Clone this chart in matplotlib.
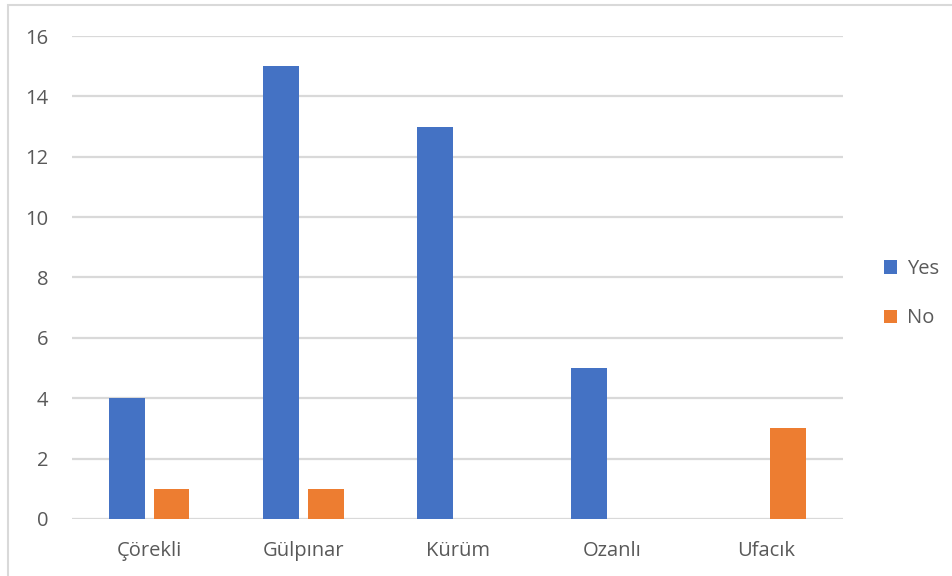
import matplotlib.pyplot as plt
import numpy as np
from matplotlib.patches import Rectangle

villages = ["Çörekli", "Gülpınar", "Kürüm", "Ozanlı", "Ufacık"]
yes_counts = [4, 15, 13, 5, 0]
no_counts = [1, 1, 0, 0, 3]

BLUE = "#4472C4"
ORANGE = "#ED7D31"
GRID = "#D9D9D9"
TEXT = "#595959"

plt.rcParams["font.family"] = ["Open Sans", "DejaVu Sans"]

fig = plt.figure(figsize=(9.53, 5.76), dpi=100)
ax = fig.add_axes([0.0756, 0.099, 0.809, 0.8385])

x = np.arange(len(villages))
w = 0.232
ax.bar(x - 0.145, yes_counts, w, color=BLUE, label="Yes", zorder=3)
ax.bar(x + 0.145, no_counts, w, color=ORANGE, label="No", zorder=3)

ax.set_xlim(-0.5, len(villages) - 0.5)
ax.set_ylim(0, 16)
ax.set_yticks(range(0, 17, 2))
ax.set_xticks(x)
ax.set_xticklabels(villages)
ax.yaxis.grid(True, color=GRID, linewidth=1.6, zorder=0)
for s in ax.spines.values():
    s.set_visible(False)
ax.tick_params(length=0, labelsize=14.5, colors=TEXT)
ax.tick_params(axis="y", pad=17)
ax.tick_params(axis="x", pad=16)

leg = fig.legend(loc="center left", bbox_to_anchor=(0.909, 0.49), frameon=False,
                 fontsize=14.5, handlelength=0.65, handleheight=0.65,
                 handletextpad=0.45, labelspacing=1.45)
for t in leg.get_texts():
    t.set_color(TEXT)

# chart frame
fig.patches.append(Rectangle((8 / 953, -0.05), 1.2, 1 - 5 / 576 + 0.05,
                             transform=fig.transFigure, fill=False,
                             edgecolor="#D9D9D9", linewidth=1.5))

fig.savefig("out.png", dpi=100)
